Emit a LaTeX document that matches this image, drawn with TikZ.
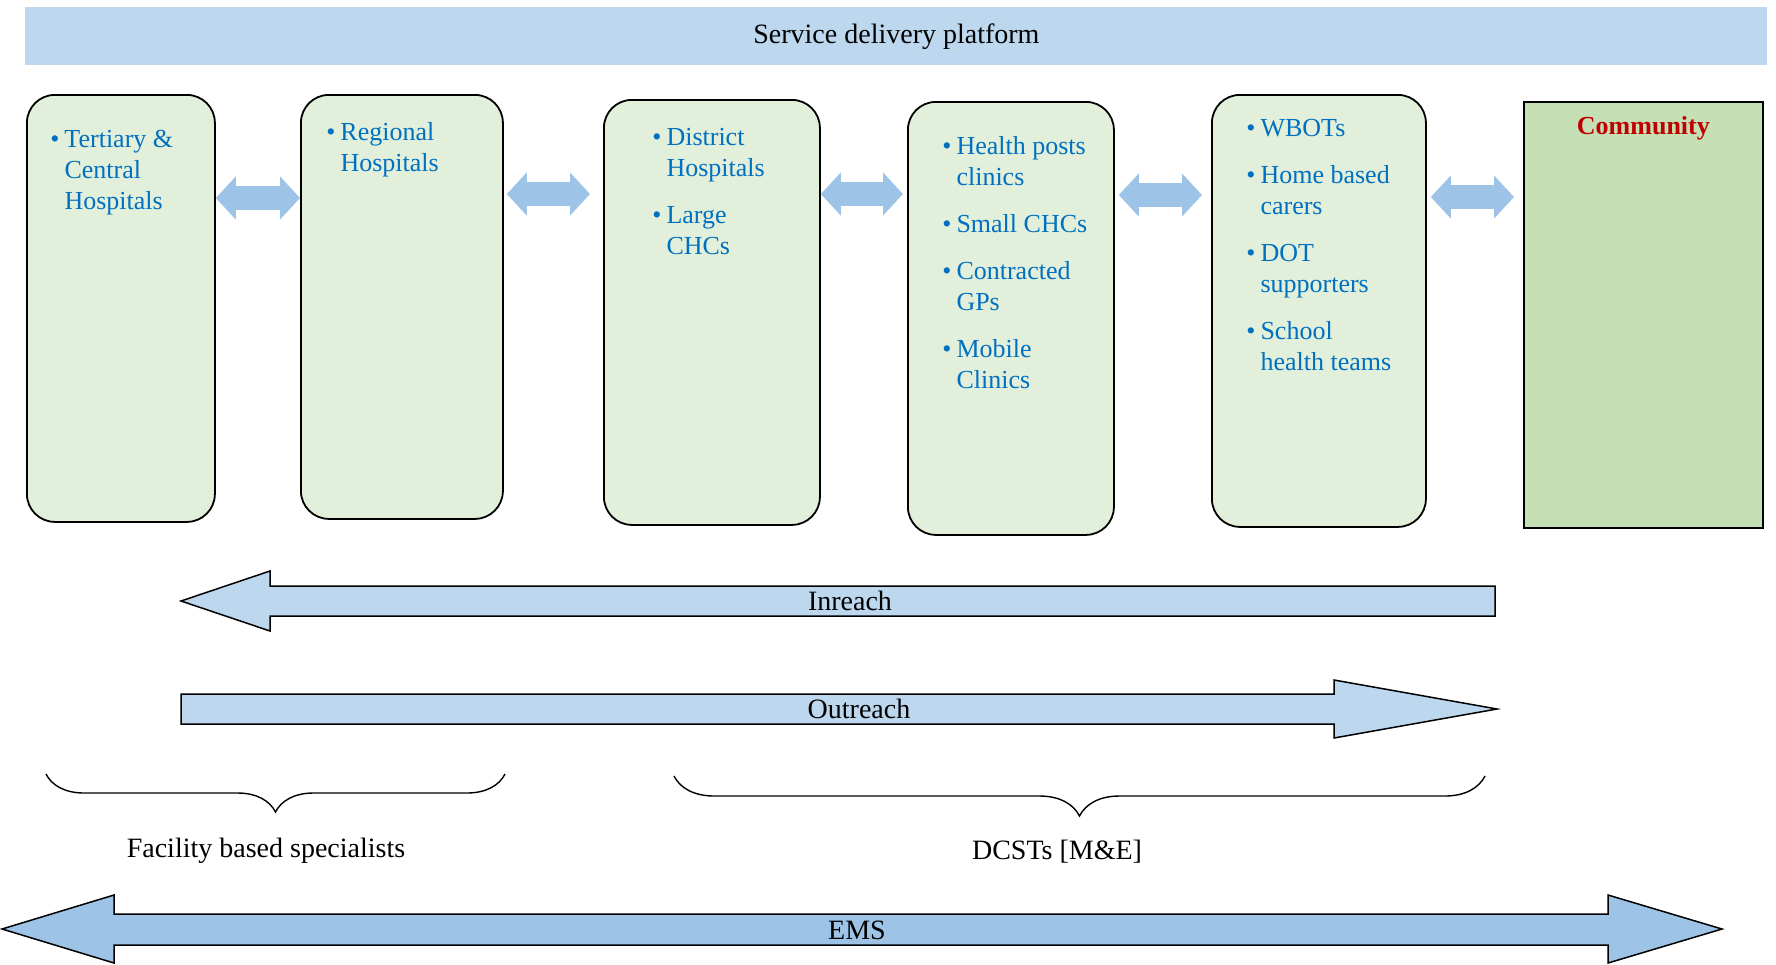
\documentclass[tikz,border=0pt]{standalone}
\usepackage{fontspec}
\setmainfont{Liberation Serif}
\usetikzlibrary{positioning,arrows.meta,decorations.pathreplacing}
\definecolor{barblue}{RGB}{189,215,238}
\definecolor{linkblue}{RGB}{157,195,230}
\definecolor{tiergreen}{RGB}{226,239,218}
\definecolor{commgreen}{RGB}{197,224,180}
\definecolor{itemblue}{RGB}{0,112,192}
\definecolor{commred}{RGB}{192,0,0}

\begin{document}
\begin{tikzpicture}[x=0.5pt, y=-0.5pt,
  every node/.style={font=\fontsize{14}{17}\selectfont},
  tier/.style={draw, line width=0.9pt, fill=tiergreen, rounded corners=14pt,
    anchor=north west, inner sep=0},
  items/.style={text=itemblue, font=\fontsize{13}{15.5}\selectfont,
    anchor=base west, inner sep=0},
  link/.style={line width=12pt, draw=linkblue,
    {Triangle[length=10pt 0 0, width=21pt 0 0]}-{Triangle[length=10pt 0 0, width=21pt 0 0]}},
  fatarrow/.style={draw, line width=0.75pt, line join=miter},
  bracket/.style={decorate, decoration={brace, mirror, amplitude=#1}, line width=0.7pt}]
  \def\tierbox#1#2#3#4#5#6{
    \node[tier, minimum width=#3, minimum height=#4] (#1) at #2 {};
    \node[items] (#1-items) at ([shift={#5}] #1.north west)
    {\begin{tabular}[t]{@{}l@{\hspace{2.5pt}}l@{}}#6\end{tabular}};
  }
  %\draw[help lines, step=100] (0,0) grid (1776,964);
  \useasboundingbox (0,0) rectangle (1776,964);

  \node[anchor=north west, fill=barblue, inner sep=0,
  minimum width=871pt, minimum height=29pt] (platform) at (25,7)
  {Service delivery platform};

  \tierbox{tier1}{(26,94)}{94pt}{213.5pt}{(24,53)}
  {\textbullet & Tertiary \& \\ & Central \\ & Hospitals}

  \tierbox{tier2}{(300,94)}{101pt}{212pt}{(26,46)}
  {\textbullet & Regional \\ & Hospitals}

  \tierbox{tier3}{(603,99)}{108pt}{212.5pt}{(49,46)}
  {\textbullet & District \\ & Hospitals \\[8pt]
    \textbullet & Large \\ & CHCs}

  \tierbox{tier4}{(907,101)}{103pt}{216.5pt}{(35,53)}
  {\textbullet & Health posts \\ & clinics \\[8pt]
    \textbullet & Small CHCs \\[8pt]
    \textbullet & Contracted \\ & GPs \\[8pt]
    \textbullet & Mobile \\ & Clinics}

  \tierbox{tier5}{(1211,94)}{107pt}{216pt}{(35,42)}
  {\textbullet & WBOTs \\[8pt]
    \textbullet & Home based \\ & carers \\[8pt]
    \textbullet & DOT \\ & supporters \\[8pt]
    \textbullet & School \\ & health teams}

  \node[tier, sharp corners, fill=commgreen, minimum width=119.5pt,
  minimum height=213pt] (community) at (1523,101) {};
  \node[font=\fontsize{13}{15.5}\selectfont\bfseries, text=commred]
  (community-title) at ([yshift=-13.5pt] community.north) {Community};

  \path ([yshift=-52pt] tier1.north east) edge[link]
  ([yshift=-52pt] tier1.north east -| tier2.west)
  ([yshift=-50pt] tier2.north east) edge[link, shorten <=1.5pt, shorten >=6.5pt]
  ([yshift=-50pt] tier2.north east -| tier3.west)
  ([yshift=-47.5pt] tier3.north east) edge[link, shorten >=2pt]
  ([yshift=-47.5pt] tier3.north east -| tier4.west)
  ([yshift=-47pt] tier4.north east) edge[link, shorten <=2pt, shorten >=4.5pt]
  ([yshift=-47pt] tier4.north east -| tier5.west)
  ([yshift=-51.5pt] tier5.north east) edge[link, shorten <=2pt, shorten >=4.5pt]
  ([yshift=-51.5pt] tier5.north east -| community.west);

  \draw[fatarrow, fill=barblue] (181,601) -- (270,571) -- (270,586) -- (1495,586)
  -- (1495,616) -- (270,616) -- (270,631) -- cycle;
  \node (inreach) at (850,601) {Inreach};

  \draw[fatarrow, fill=barblue] (181,694) -- (1334,694) -- (1334,680) -- (1497,709)
  -- (1334,738) -- (1334,724) -- (181,724) -- cycle;
  \node (outreach) at (859,709) {Outreach};

  \coordinate (fbsL) at (46,774);
  \coordinate (fbsR) at (505,774);
  \draw[bracket=19pt] (fbsL) -- (fbsR);
  \node (fbs) at (266,851) {Facility based specialists};

  \coordinate (dcstL) at (674,776);
  \coordinate (dcstR) at (1485,776);
  \draw[bracket=20pt] (dcstL) -- (dcstR);
  \node (dcst) at (1057,852) {DCSTs [M\&E]};

  \draw[fatarrow, fill=linkblue] (2,929) -- (114,895) -- (114,914) -- (1608,914)
  -- (1608,895) -- (1722,929) -- (1608,963) -- (1608,945) -- (114,945)
  -- (114,963) -- cycle;
  \node (ems) at (857,930) {EMS};
\end{tikzpicture}
\end{document}
